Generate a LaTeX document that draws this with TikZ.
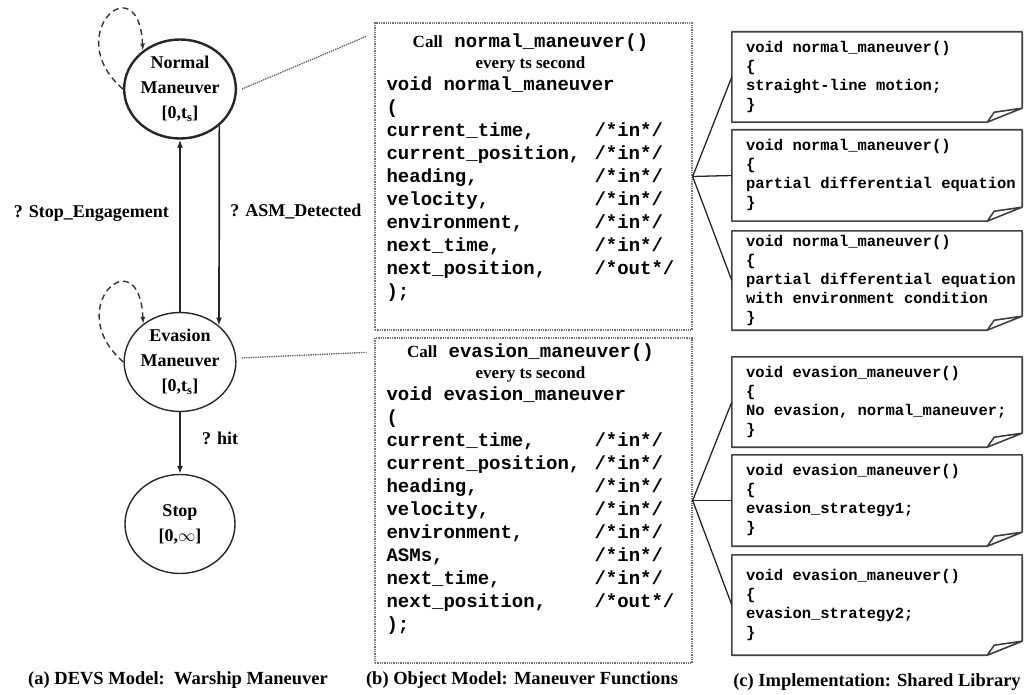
\documentclass[tikz,border=0pt]{standalone}
\usepackage{fontspec}
\setmainfont{Liberation Serif}
\setmonofont{Liberation Mono}
\usetikzlibrary{arrows.meta,positioning,shapes.geometric}
\newcommand{\libcode}[1]{\makebox[262pt][l]{\begin{tabular}{@{}l@{}}#1\end{tabular}}}
\tikzset{
  devstate/.style={draw=black!85, ellipse, minimum width=110pt, minimum height=99pt, inner sep=0pt,
                   align=center, font=\fontsize{18}{25}\selectfont\bfseries, line width=1.4pt},
  trans/.style={-{Latex[length=8pt,width=6pt]}, line width=1.7pt, draw=black!85},
  selfloop/.style={-{Latex[length=7pt,width=5pt]}, dash pattern=on 6pt off 4pt, line width=1.4pt, draw=black!80},
  evtlbl/.style={font=\fontsize{18}{22}\selectfont\bfseries},
  funbox/.style={draw=black!55, densely dotted, line width=1.3pt, minimum width=317pt},
  funcode/.style={inner sep=0pt, font=\fontsize{19}{23}\selectfont\ttfamily\bfseries},
  libdoc/.style={inner xsep=14pt, inner ysep=0pt, minimum width=290pt,
                 font=\fontsize{15.5}{19}\selectfont\ttfamily\bfseries},
  libedge/.style={line width=1.6pt, draw=black!75, line join=round},
  link/.style={densely dotted, line width=1.3pt, draw=black!65},
  fan/.style={line width=1.3pt, draw=black!85},
  subcap/.style={font=\fontsize{18.5}{22}\selectfont\bfseries}
}
\begin{document}
\begin{tikzpicture}[x=1pt, y=-1pt]
  \useasboundingbox (0,0) rectangle (1025,695);
  % (a) DEVS states
  \node[devstate, line width=2.4pt] (nnormal) at (180,89) {Normal\\Maneuver\\{}[0,t\textsubscript{s}]};
  \node[devstate] (nevasion) at (180,362) {Evasion\\Maneuver\\{}[0,t\textsubscript{s}]};
  \node[devstate] (nstop) at (180,524) {Stop\\{}[0,$\infty$]};
  \draw[trans] (nevasion.north) -- node[evtlbl, left=7pt, pos=0.57] (lstop) {? Stop\_Engagement} (nnormal.south);
  \draw[trans] (nnormal.-43) -- node[evtlbl, right=7pt, pos=0.43] (lasm) {? ASM\_Detected} (nevasion.43);
  \draw[trans] (nevasion.south) -- node[evtlbl, right=18pt, pos=0.43] (lhit) {? hit} (nstop.north);
  \draw[selfloop] (nnormal.west) .. controls +(-63,-54) and +(-4,-87) .. (nnormal.134);
  \draw[selfloop] (nevasion.west) .. controls +(-63,-54) and +(-4,-87) .. (nevasion.134);
  % (b) maneuver functions
  \node[funbox, minimum height=307pt] (nfunN) at (533.5,176.5) {};
  \node[funbox, minimum height=325pt] (nfunE) at (533.5,500.5) {};
  \node[funcode, below right=9pt and 12pt of nfunN.north west] (ncodeN) {%
    \begin{tabular}{@{}p{208pt}@{}l@{}}
    \multicolumn{2}{@{}c@{}}{{\rmfamily\fontsize{17}{20}\selectfont Call} normal\_maneuver()}\\[-2pt]
    \multicolumn{2}{@{}c@{}}{\rmfamily\fontsize{17}{20}\selectfont every ts second}\\[-1pt]
    \multicolumn{2}{@{}l@{}}{void normal\_maneuver}\\
    (\\
    current\_time, & /*in*/\\
    current\_position, & /*in*/\\
    heading, & /*in*/\\
    velocity, & /*in*/\\
    environment, & /*in*/\\
    next\_time, & /*in*/\\
    next\_position, & /*out*/\\
    );
    \end{tabular}};
  \node[funcode, below right=4pt and 12pt of nfunE.north west] (ncodeE) {%
    \begin{tabular}{@{}p{208pt}@{}l@{}}
    \multicolumn{2}{@{}c@{}}{{\rmfamily\fontsize{17}{20}\selectfont Call} evasion\_maneuver()}\\[-2pt]
    \multicolumn{2}{@{}c@{}}{\rmfamily\fontsize{17}{20}\selectfont every ts second}\\[-1pt]
    \multicolumn{2}{@{}l@{}}{void evasion\_maneuver}\\
    (\\
    current\_time, & /*in*/\\
    current\_position, & /*in*/\\
    heading, & /*in*/\\
    velocity, & /*in*/\\
    environment, & /*in*/\\
    ASMs, & /*in*/\\
    next\_time, & /*in*/\\
    next\_position, & /*out*/\\
    );
    \end{tabular}};
  \draw[link] ([xshift=5pt]nnormal.east) -- ([xshift=-8pt,yshift=-14pt]nfunN.north west);
  \draw[link] ([xshift=5pt,yshift=4pt]nevasion.east) -- ([xshift=-8pt,yshift=-15pt]nfunE.north west);
  % (c) shared library
  \node[libdoc, minimum height=90pt] (nlibN1) at (877,77) {\libcode{void normal\_maneuver()\\\{\\straight-line motion;\\\}}};
  \node[libdoc, minimum height=91pt] (nlibN2) at (877,175.5) {\libcode{void normal\_maneuver()\\\{\\partial differential equation\\\}}};
  \node[libdoc, minimum height=99pt] (nlibN3) at (877,280.5) {\libcode{void normal\_maneuver()\\\{\\partial differential equation\\with environment condition\\\}}};
  \node[libdoc, minimum height=90pt] (nlibE1) at (877,402) {\libcode{void evasion\_maneuver()\\\{\\No evasion, normal\_maneuver;\\\}}};
  \node[libdoc, minimum height=91pt] (nlibE2) at (877,500.5) {\libcode{void evasion\_maneuver()\\\{\\evasion\_strategy1;\\\}}};
  \node[libdoc, minimum height=100pt] (nlibE3) at (877,605) {\libcode{void evasion\_maneuver()\\\{\\evasion\_strategy2;\\\}}};
  \foreach \d in {nlibN1,nlibN2,nlibN3,nlibE1,nlibE2,nlibE3}
    \draw[libedge] ([yshift=14pt]\d.south east) -- (\d.north east) -- (\d.north west) -- (\d.south west)
      -- ([xshift=-35pt]\d.south east) -- cycle
      ([xshift=-35pt]\d.south east) -- ([xshift=-28pt,yshift=10pt]\d.south east) -- ([yshift=14pt]\d.south east);
  \foreach \d in {nlibN1,nlibN2,nlibN3}
    \draw[fan] (nfunN.east) -- (\d.west);
  \foreach \d in {nlibE1,nlibE2,nlibE3}
    \draw[fan] (nfunE.east) -- (\d.west);
  % captions
  \node[subcap] (capa) at (178,680) {(a) DEVS Model:\ \ Warship Maneuver};
  \node[subcap] (capb) at (522,680) {(b) Object Model: Maneuver Functions};
  \node[subcap] (capc) at (877,682) {(c) Implementation: Shared Library};
\end{tikzpicture}
\end{document}
